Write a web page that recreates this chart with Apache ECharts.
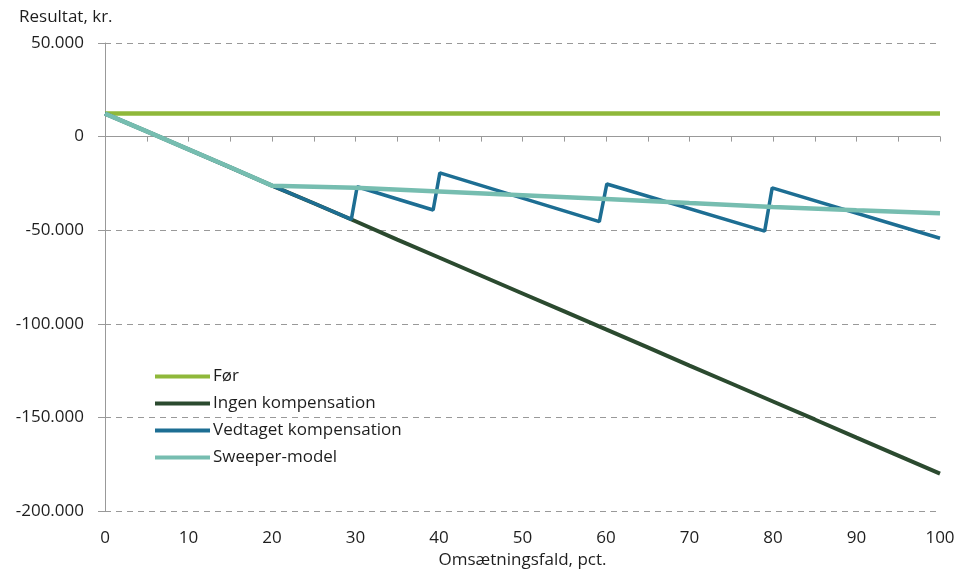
<!DOCTYPE html>
<html>
<head>
<meta charset="utf-8">
<script src="https://cdn.jsdelivr.net/npm/echarts@6/dist/echarts.min.js"></script>
<style>html,body{margin:0;padding:0;background:#fff}#c{width:963px;height:574px}</style>
</head>
<body>
<div id="c"></div>
<script>
// Data (x = omsætningsfald pct., y = resultat kr.)
const seriesNames = ['Før', 'Ingen kompensation', 'Vedtaget kompensation', 'Sweeper-model'];
const foerData = [[0, 12300], [100, 12300]];
const ingenData = [
  [0, 12300], [5, 2800], [10, -6800], [15, -16400], [20, -26200], [25, -35600],
  [30, -45200], [35, -55000], [40, -64600], [45, -74200], [50, -83800], [55, -93400],
  [60, -103000], [65, -112600], [70, -122300], [75, -131900], [80, -141500],
  [85, -151100], [90, -160800], [95, -170400], [100, -180000]
];
const vedtagetData = [
  [0, 12300], [5, 2800], [10, -6800], [15, -16400], [20, -26200], [25, -35600],
  [29.5, -44200], [30.2, -26800], [39.3, -39200], [40.1, -19400], [59.2, -45400],
  [60.1, -25300], [79.0, -50500], [79.9, -27400], [100, -54300]
];
const sweeperData = [
  [0, 12300], [5, 2800], [10, -6800], [15, -16400], [20, -26200], [30, -27300],
  [40, -29300], [50, -31300], [60, -33300], [70, -35500], [80, -37600],
  [90, -39300], [100, -40900]
];
const yTicks = [50000, 0, -50000, -100000, -150000, -200000];
const xTicks = [0, 10, 20, 30, 40, 50, 60, 70, 80, 90, 100];

const FONT = 'Open Sans';
const TXT = '#1e1e1e';
const colors = ['#8fb83a', '#2b4a2f', '#1d6e93', '#76bdb0'];
const widths = [4.5, 4, 3.5, 4.5];

function fmt(v) {
  const s = Math.abs(v).toString().replace(/\B(?=(\d{3})+(?!\d))/g, '.');
  return (v < 0 ? '-' : '') + s;
}

const chart = echarts.init(document.getElementById('c'), null, {renderer: 'canvas'});
const datas = [foerData, ingenData, vedtagetData, sweeperData];
chart.setOption({
  animation: false,
  backgroundColor: '#fff',
  title: {
    text: 'Resultat, kr.', left: 19, top: 9, padding: 0,
    textStyle: {fontFamily: FONT, fontSize: 17, fontWeight: 'normal', color: TXT}
  },
  grid: {left: 105, right: 23, top: 43, bottom: 63},
  legend: {
    orient: 'vertical', left: 155, top: 368, itemGap: 10, padding: 0,
    itemWidth: 55, itemHeight: 4, icon: 'rect',
    textStyle: {fontFamily: FONT, fontSize: 17, color: TXT, padding: [0, 0, 0, -2]},
    data: seriesNames
  },
  xAxis: {
    type: 'value', min: 0, max: 100, interval: 5,
    name: 'Omsætningsfald, pct.', nameLocation: 'middle', nameGap: 40,
    nameTextStyle: {fontFamily: FONT, fontSize: 17, color: TXT},
    axisLine: {show: true, lineStyle: {color: '#999', width: 1}},
    axisTick: {show: true, length: 5, lineStyle: {color: '#999'}},
    axisLabel: {
      fontFamily: FONT, fontSize: 17, color: TXT, margin: 19,
      formatter: v => (xTicks.indexOf(v) >= 0 ? String(v) : '')
    },
    splitLine: {show: false}
  },
  yAxis: {
    type: 'value', min: -200000, max: 50000, interval: 50000,
    axisLine: {show: true, lineStyle: {color: '#999', width: 1}},
    axisTick: {show: true, length: 7, lineStyle: {color: '#999'}},
    axisLabel: {
      fontFamily: FONT, fontSize: 17, color: TXT, margin: 21,
      formatter: v => (yTicks.indexOf(v) >= 0 ? fmt(v) : '')
    },
    splitLine: {show: true, lineStyle: {color: '#999', type: [6, 5], width: 1}}
  },
  series: seriesNames.map((n, i) => ({
    name: n, type: 'line', data: datas[i], showSymbol: false, symbol: 'none',
    lineStyle: {color: colors[i], width: widths[i]},
    itemStyle: {color: colors[i]},
    z: 2 + i
  }))
});
</script>
</body>
</html>
